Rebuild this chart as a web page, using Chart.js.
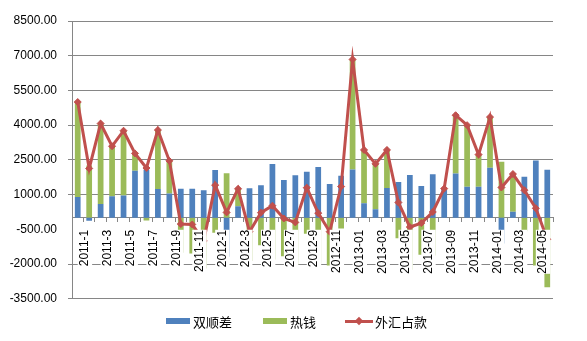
<!DOCTYPE html>
<html>
<head>
<meta charset="utf-8">
<script src="https://cdn.jsdelivr.net/npm/chart.js@4/dist/chart.umd.min.js"></script>
<style>
  body { margin: 0; background: #fff; }
  #wrap { position: relative; width: 587px; height: 341px; }
  #plot { position: absolute; left: 0; top: 0; width: 587px; height: 317px; }
  .key { position: absolute; top: 312px; height: 18px; line-height: 18px;
         font: 13px "Noto Sans CJK SC", sans-serif; color: #000; }
  .swatch { position: absolute; top: 318px; width: 24px; height: 6px; }
  .rule { position: absolute; left: 345px; top: 320px; width: 28px; height: 3px; background: #C0504D; }
  .dot { position: absolute; left: 356px; top: 318px; width: 6px; height: 6px; background: #C0504D; transform: rotate(45deg); }
</style>
</head>
<body>
<div id="wrap">
  <div id="plot"><canvas id="flows"></canvas></div>
  <div class="swatch" style="left:166px;background:#4F81BD"></div>
  <div class="key" style="left:193px">双顺差</div>
  <div class="swatch" style="left:263px;background:#9BBB59"></div>
  <div class="key" style="left:290px">热钱</div>
  <div class="rule"></div>
  <div class="dot"></div>
  <div class="key" style="left:375px">外汇占款</div>
</div>
<script>
const months = [
  '2011-1', '2011-2', '2011-3', '2011-4', '2011-5', '2011-6',
  '2011-7', '2011-8', '2011-9', '2011-10', '2011-11', '2011-12',
  '2012-1', '2012-2', '2012-3', '2012-4', '2012-5', '2012-6',
  '2012-7', '2012-8', '2012-9', '2012-10', '2012-11', '2012-12',
  '2013-01', '2013-02', '2013-03', '2013-04', '2013-05', '2013-06',
  '2013-07', '2013-08', '2013-09', '2013-10', '2013-11', '2013-12',
  '2014-01', '2014-02', '2014-03', '2014-04', '2014-05', '2014-06'
];

// 双顺差
const surplus = [
  900, -130, 590, 930, 960, 2030, 2080, 1240, 1050, 1250, 1250, 1190,
  2060, -1680, 500, 1270, 1410, 2320, 1630, 1840, 1990, 2190, 1460, 1810,
  2090, 630, 370, 1290, 1540, 1850, 1370, 1880, 1200, 1910, 1340, 1340,
  2160, -1110, 260, 1770, 2470, 2070
];

// 热钱
const hotMoney = [
  4100, 2260, 3480, 2160, 2800, 750, -120, 2550, 1410, -1510, -1540, -2190,
  -650, 1920, 750, -1870, -1190, -1800, -1660, -2040, -690, -1990, -2060, -460,
  4750, 2300, 1960, 1640, -880, -2250, -1600, -1630, 60, 2520, 2660, 1390,
  2190, 2420, 1630, -580, -2060, -3000
];

// 外汇占款
const fxReserve = [
  5000, 2130, 4070, 3090, 3760, 2780, 2150, 3790, 2460, -270, -290, -1000,
  1410, 230, 1250, -600, 220, 520, -30, -200, 1300, 200, -600, 1350,
  6840, 2930, 2330, 2930, 660, -400, -230, 250, 1260, 4430, 4000, 2730,
  4350, 1310, 1890, 1190, 410, -930
];

const yTicks = { min: -3500, max: 8500, step: 1500 };

const gridGray = '#868686';
const labelFont = { family: "'Liberation Sans', Arial, sans-serif", size: 12 };

new Chart(document.getElementById('flows'), {
  type: 'bar',
  data: {
    labels: months,
    datasets: [
      {
        label: '双顺差',
        data: surplus,
        backgroundColor: '#4F81BD',
        stack: 'flows',
        order: 1
      },
      {
        label: '热钱',
        data: hotMoney,
        backgroundColor: '#9BBB59',
        stack: 'flows',
        order: 1
      },
      {
        type: 'line',
        label: '外汇占款',
        data: fxReserve,
        borderColor: '#C0504D',
        backgroundColor: '#C0504D',
        borderWidth: 3,
        pointStyle: 'rectRot',
        pointRadius: 3.5,
        pointBorderWidth: 1,
        tension: 0,
        order: 0
      }
    ]
  },
  options: {
    responsive: true,
    maintainAspectRatio: false,
    animation: false,
    categoryPercentage: 1,
    barPercentage: 0.5,
    // chart.js reserves ~18px under the plot for the axis here, so the
    // canvas is 317 tall to put the plot at 21..299
    layout: { padding: { left: 0, top: 21, right: 34, bottom: 4.8 } },
    plugins: {
      legend: { display: false },
      tooltip: { enabled: false }
    },
    scales: {
      x: {
        stacked: true,
        position: { y: 0 },
        border: { color: gridGray },
        grid: { drawOnChartArea: false, tickLength: 4, color: gridGray },
        ticks: {
          autoSkip: false,
          minRotation: 90,
          maxRotation: 90,
          padding: 8,
          z: 1,
          showLabelBackdrop: true,
          backdropColor: '#fff',
          backdropPadding: 0,
          color: '#000',
          font: labelFont,
          callback: (v, i) => (i % 2 === 0 ? months[i] : '')
        }
      },
      y: {
        stacked: true,
        min: yTicks.min,
        max: yTicks.max,
        afterFit: (scale) => { scale.width = 72; },
        border: { color: gridGray },
        grid: {
          tickLength: 4,
          color: (ctx) => (ctx.tick && ctx.tick.value === -500 ? 'rgba(0,0,0,0)' : gridGray)
        },
        ticks: {
          stepSize: yTicks.step,
          padding: 11,
          color: '#000',
          font: labelFont,
          callback: (v) => Number(v).toFixed(2)
        }
      }
    }
  }
});
</script>
</body>
</html>
